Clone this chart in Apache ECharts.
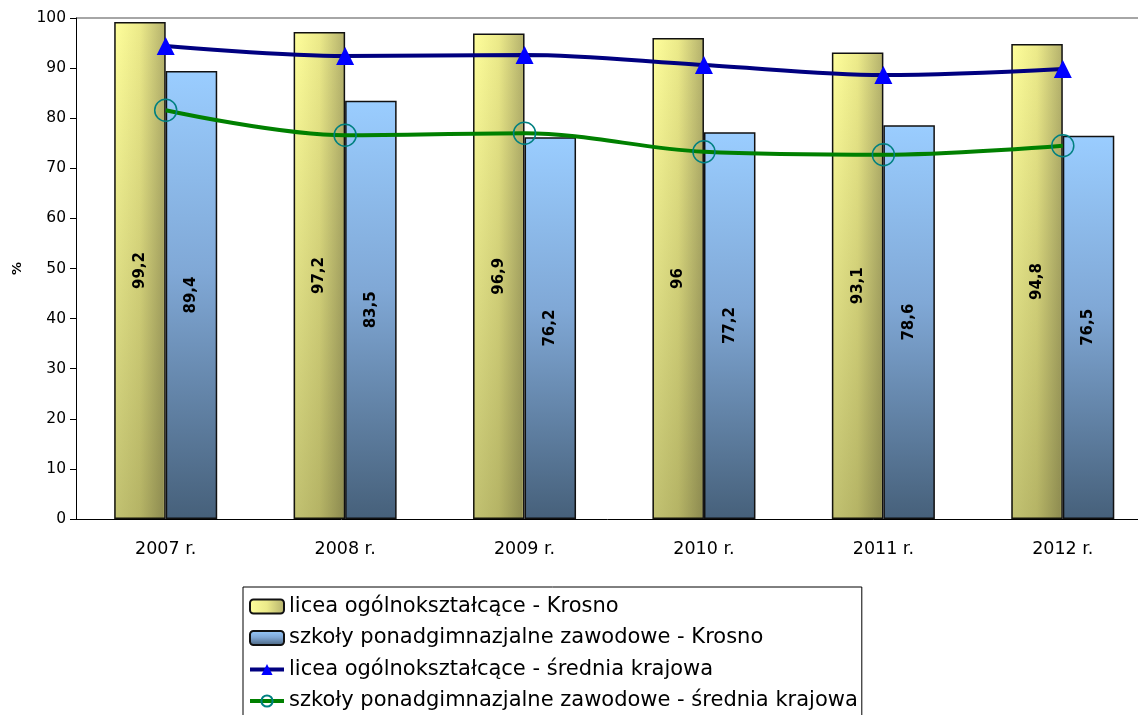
<!DOCTYPE html>
<html>
<head>
<meta charset="utf-8">
<script src="https://cdn.jsdelivr.net/npm/echarts@6/dist/echarts.min.js"></script>
<style>
  html, body { margin: 0; padding: 0; background: #fff; }
  #chart { width: 1138px; height: 715px; }
</style>
</head>
<body>
<div id="chart"></div>
<script>
const years = ["2007 r.", "2008 r.", "2009 r.", "2010 r.", "2011 r.", "2012 r."];
const liceaKrosno = [99.2, 97.2, 96.9, 96, 93.1, 94.8];
const zawodoweKrosno = [89.4, 83.5, 76.2, 77.2, 78.6, 76.5];
const liceaKraj = [94.4, 92.4, 92.6, 90.6, 88.6, 89.8];
const zawodoweKraj = [81.6, 76.6, 77.0, 73.3, 72.7, 74.5];
const yTicks = [0, 10, 20, 30, 40, 50, 60, 70, 80, 90, 100];

const names = [
  "licea ogólnokształcące - Krosno",
  "szkoły ponadgimnazjalne zawodowe - Krosno",
  "licea ogólnokształcące - średnia krajowa",
  "szkoły ponadgimnazjalne zawodowe - średnia krajowa",
];

const font = "DejaVu Sans, Arial, sans-serif";
const barW = 51.5;

function barLabel() {
  return {
    show: true,
    position: "inside",
    rotate: 90,
    fontFamily: font,
    fontSize: 15,
    fontWeight: "bold",
    color: "#000",
    formatter: (p) => String(p.value).replace(".", ","),
  };
}

const chart = echarts.init(document.getElementById("chart"));
chart.setOption({
  animation: false,
  textStyle: { fontFamily: font },
  grid: {
    left: 76,
    top: 18,
    right: -14.5,
    bottom: 196,
    containLabel: false,
    outerBoundsMode: "none",
  },
  legend: {
    orient: "vertical",
    left: 243,
    top: 587,
    height: 160,
    data: names,
    padding: [9, 4, 9, 5],
    itemGap: 10.5,
    itemWidth: 34,
    itemHeight: 14,
    borderColor: "#000",
    borderWidth: 1,
    borderRadius: 0,
    lineStyle: { width: 4 },
    textStyle: { fontFamily: font, fontSize: 21, color: "#000" },
  },
  xAxis: [
    {
      type: "category",
      data: years,
      axisLine: { lineStyle: { color: "#000", width: 1 } },
      axisTick: { length: 7, lineStyle: { color: "#000" } },
      axisLabel: { color: "#000", fontSize: 17.5, margin: 21 },
    },
    { type: "category", data: years, show: false },
  ],
  yAxis: {
    type: "value",
    min: 0,
    max: 100,
    interval: 10,
    name: "%",
    nameLocation: "middle",
    nameRotate: 90,
    nameGap: 52,
    nameTextStyle: { fontSize: 13, fontWeight: "bold", color: "#000" },
    axisLine: { show: true, lineStyle: { color: "#000", width: 1 } },
    axisTick: { show: true, length: 6, lineStyle: { color: "#000" } },
    axisLabel: { color: "#000", fontSize: 15.5, margin: 10 },
    splitLine: {
      show: true,
      lineStyle: {
        width: 2,
        color: yTicks.map((v) => (v === 100 ? "#a6a6a6" : "rgba(0,0,0,0)")),
      },
    },
  },
  series: [
    {
      name: names[0],
      type: "bar",
      data: liceaKrosno,
      barWidth: barW,
      barGap: "0%",
      itemStyle: {
        color: new echarts.graphic.LinearGradient(0, 0, 1, 0, [
          { offset: 0, color: "#ffff9c" },
          { offset: 0.5, color: "#ecea8a" },
          { offset: 1, color: "#b3b06c" },
        ]),
        borderColor: "#111",
        borderWidth: 1.5,
      },
      label: barLabel(),
      z: 2,
    },
    {
      name: names[1],
      type: "bar",
      data: zawodoweKrosno,
      barWidth: barW,
      barGap: "0%",
      itemStyle: {
        color: new echarts.graphic.LinearGradient(0, 0, 0, 1, [
          { offset: 0, color: "#9acdff" },
          { offset: 0.45, color: "#80a8d6" },
          { offset: 1, color: "#46607a" },
        ]),
        borderColor: "#111",
        borderWidth: 1.5,
      },
      label: barLabel(),
      z: 2,
    },
    {
      // darkening toward the bottom of the yellow bars
      name: "shade",
      type: "bar",
      xAxisIndex: 1,
      data: liceaKrosno,
      barWidth: barW - 2,
      barGap: "0%",
      silent: true,
      itemStyle: {
        color: new echarts.graphic.LinearGradient(0, 0, 0, 1, [
          { offset: 0, color: "rgba(30,30,0,0)" },
          { offset: 1, color: "rgba(30,30,0,0.27)" },
        ]),
      },
      z: 2,
    },
    {
      name: "shade-gap",
      type: "bar",
      xAxisIndex: 1,
      data: [],
      barWidth: barW + 2,
      barGap: "0%",
      silent: true,
    },
    {
      name: names[2],
      type: "line",
      data: liceaKraj,
      smooth: 0.35,
      symbol: "triangle",
      symbolSize: 18,
      lineStyle: { color: "#000080", width: 4 },
      itemStyle: { color: "#0000ff" },
      z: 5,
    },
    {
      name: names[3],
      type: "line",
      data: zawodoweKraj,
      smooth: 0.35,
      symbol: "circle",
      symbolSize: 22,
      lineStyle: { color: "#008000", width: 4 },
      itemStyle: {
        color: "rgba(255,255,255,0)",
        borderColor: "#008080",
        borderWidth: 1.5,
      },
      z: 5,
    },
  ],
});
</script>
</body>
</html>
